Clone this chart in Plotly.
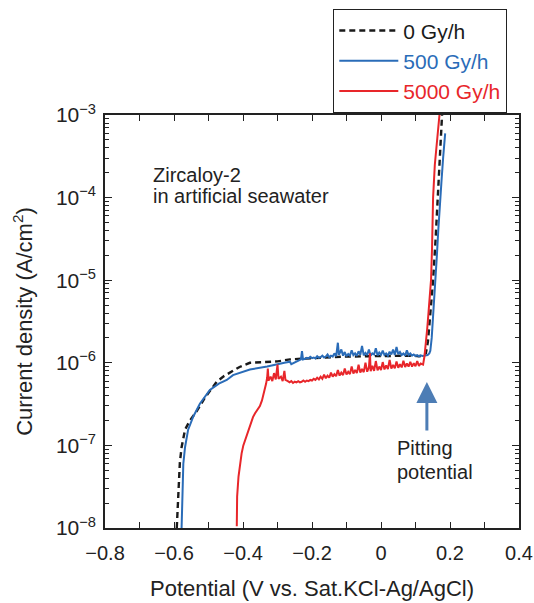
import math
import plotly.graph_objects as go

# ---------------- data ----------------
# 0 Gy/h (black dashed)
v0 = [-0.592, -0.589, -0.587, -0.583, -0.578, -0.568, -0.554, -0.534, -0.51, -0.486,
      -0.476, -0.455, -0.433, -0.41, -0.38, -0.34, -0.30, -0.264, -0.22, -0.18,
      -0.14, -0.10, -0.05, 0.0, 0.03, 0.06, 0.09, 0.11, 0.12, 0.13,
      0.136, 0.14, 0.145, 0.151, 0.158, 0.165, 0.171, 0.177]
i0 = [1e-8, 2e-8, 3.8e-8, 6.2e-8, 9.5e-8, 1.55e-7, 2.0e-7, 2.6e-7, 3.8e-7, 5.1e-7,
      5.9e-7, 6.9e-7, 7.8e-7, 8.9e-7, 1.0e-6, 1.02e-6, 1.04e-6, 1.1e-6, 1.13e-6, 1.15e-6,
      1.17e-6, 1.19e-6, 1.2e-6, 1.21e-6, 1.22e-6, 1.23e-6, 1.22e-6, 1.2e-6, 1.22e-6, 1.3e-6,
      1.8e-6, 2.8e-6, 5e-6, 1e-5, 3e-5, 1e-4, 3e-4, 1e-3]

# 500 Gy/h (blue)
v500 = [-0.578, -0.576, -0.573, -0.568, -0.559, -0.544, -0.525, -0.496, -0.47, -0.447,
        -0.429, -0.38, -0.33, -0.28, -0.264, -0.26, -0.24, -0.232, -0.229, -0.226,
        -0.22, -0.215, -0.21, -0.205, -0.20, -0.195, -0.19, -0.185, -0.18, -0.175,
        -0.17, -0.165, -0.16, -0.155, -0.15, -0.145, -0.14, -0.135, -0.13, -0.125,
        -0.122, -0.115, -0.11, -0.105, -0.10, -0.095, -0.09, -0.085, -0.08, -0.075,
        -0.07, -0.065, -0.06, -0.055, -0.05, -0.045, -0.04, -0.035, -0.03, -0.025,
        -0.02, -0.015, -0.01, -0.005, 0.0, 0.005, 0.01, 0.015, 0.02, 0.025,
        0.03, 0.035, 0.04, 0.045, 0.05, 0.055, 0.06, 0.065, 0.07, 0.075,
        0.08, 0.085, 0.09, 0.095, 0.10, 0.105, 0.11, 0.115, 0.12, 0.125,
        0.13, 0.135, 0.14, 0.143, 0.147, 0.151, 0.155, 0.158, 0.162, 0.166,
        0.170, 0.175, 0.180, 0.186]
i500 = [1e-8, 2.4e-8, 6e-8, 9.5e-8, 1.55e-7, 2.24e-7, 3.2e-7, 4.7e-7, 5.6e-7, 6.2e-7,
        7.1e-7, 8.3e-7, 9.0e-7, 1.0e-6, 1.03e-6, 0.96e-6, 1.06e-6, 1.1e-6, 1.38e-6, 1.1e-6,
        1.12e-6, 1.15e-6, 1.13e-6, 1.18e-6, 1.14e-6, 1.16e-6, 1.13e-6, 1.2e-6, 1.15e-6, 1.17e-6,
        1.22e-6, 1.16e-6, 1.19e-6, 1.26e-6, 1.17e-6, 1.22e-6, 1.19e-6, 1.3e-6, 1.2e-6, 1.75e-6,
        1.25e-6, 1.45e-6, 1.22e-6, 1.35e-6, 1.2e-6, 1.28e-6, 1.22e-6, 1.42e-6, 1.24e-6, 1.3e-6,
        1.21e-6, 1.38e-6, 1.25e-6, 1.6e-6, 1.23e-6, 1.32e-6, 1.24e-6, 1.45e-6, 1.22e-6, 1.3e-6,
        1.26e-6, 1.5e-6, 1.23e-6, 1.33e-6, 1.25e-6, 1.4e-6, 1.24e-6, 1.3e-6, 1.22e-6, 1.36e-6,
        1.26e-6, 1.45e-6, 1.24e-6, 1.55e-6, 1.27e-6, 1.35e-6, 1.24e-6, 1.3e-6, 1.22e-6, 1.42e-6,
        1.24e-6, 1.3e-6, 1.22e-6, 1.26e-6, 1.21e-6, 1.24e-6, 1.2e-6, 1.23e-6, 1.21e-6, 1.22e-6,
        1.22e-6, 1.24e-6, 1.3e-6, 1.4e-6, 2e-6, 3.5e-6, 6e-6, 1e-5, 2e-5, 4e-5,
        8e-5, 1.5e-4, 3e-4, 6e-4]

# 5000 Gy/h (red)
v5000 = [-0.418, -0.417, -0.413, -0.409, -0.404, -0.399, -0.394, -0.389, -0.384, -0.378,
         -0.371, -0.365, -0.358, -0.351, -0.345, -0.340, -0.336, -0.333, -0.330, -0.328, -0.326,
         -0.325, -0.32, -0.315, -0.31, -0.305, -0.30, -0.297, -0.29, -0.285, -0.28,
         -0.277, -0.27, -0.265, -0.26, -0.255, -0.25, -0.245, -0.24, -0.235, -0.23,
         -0.225, -0.22, -0.215, -0.21, -0.205, -0.20, -0.195, -0.19, -0.185, -0.18,
         -0.175, -0.17, -0.165, -0.16, -0.155, -0.15, -0.145, -0.14, -0.135, -0.13,
         -0.125, -0.12, -0.115, -0.11, -0.105, -0.10, -0.095, -0.09, -0.085, -0.08,
         -0.075, -0.07, -0.065, -0.06, -0.055, -0.05, -0.045, -0.04, -0.035, -0.032,
         -0.03, -0.025, -0.02, -0.015, -0.01, -0.005, 0.0, 0.005, 0.01, 0.015,
         0.02, 0.025, 0.03, 0.035, 0.04, 0.045, 0.05, 0.055, 0.06, 0.065,
         0.07, 0.075, 0.08, 0.085, 0.09, 0.095, 0.10, 0.105, 0.11, 0.115,
         0.12, 0.122, 0.126, 0.13, 0.134, 0.138, 0.142, 0.145, 0.148, 0.151,
         0.156, 0.162, 0.168, 0.172]
i5000 = [1.05e-8, 2.4e-8, 4.2e-8, 6e-8, 8e-8, 1.0e-7, 1.15e-7, 1.35e-7, 1.6e-7, 1.9e-7,
         2.2e-7, 2.45e-7, 2.7e-7, 3.0e-7, 3.5e-7, 4.2e-7, 5.1e-7, 5.6e-7, 6.6e-7, 8.5e-7, 6.2e-7,
         6.2e-7, 6.8e-7, 6.0e-7, 7.5e-7, 6.3e-7, 9.5e-7, 6.4e-7, 6.8e-7, 6.0e-7, 8.0e-7,
         6.2e-7, 6.0e-7, 5.8e-7, 6.0e-7, 5.7e-7, 5.9e-7, 5.8e-7, 6.0e-7, 5.8e-7, 5.9e-7,
         6.1e-7, 5.9e-7, 6.1e-7, 6.0e-7, 6.2e-7, 6.1e-7, 6.4e-7, 6.2e-7, 6.6e-7, 6.3e-7,
         6.8e-7, 6.4e-7, 7.2e-7, 6.5e-7, 7.0e-7, 6.6e-7, 7.6e-7, 6.8e-7, 7.3e-7, 6.9e-7,
         8.2e-7, 7.0e-7, 7.6e-7, 7.1e-7, 8.5e-7, 7.2e-7, 7.8e-7, 7.3e-7, 9.0e-7, 7.4e-7,
         8.2e-7, 7.5e-7, 9.5e-7, 7.6e-7, 8.4e-7, 7.7e-7, 1.0e-6, 7.8e-7, 8.8e-7, 1.3e-6,
         7.9e-7, 9.2e-7, 8.0e-7, 1.05e-6, 8.1e-7, 9.0e-7, 8.2e-7, 1.02e-6, 8.3e-7, 9.3e-7,
         8.4e-7, 1.08e-6, 8.5e-7, 9.4e-7, 8.6e-7, 1.04e-6, 8.7e-7, 9.6e-7, 8.8e-7, 1.06e-6,
         8.9e-7, 9.8e-7, 9.0e-7, 1.03e-6, 9.0e-7, 9.9e-7, 9.1e-7, 1.05e-6, 9.2e-7, 9.8e-7,
         9.4e-7, 9.5e-7, 1.2e-6, 1.7e-6, 2.6e-6, 4.2e-6, 7e-6, 1e-5, 2.5e-5, 1e-4,
         2.5e-4, 5e-4, 1e-3, 1.3e-3]

series_names = ["0 Gy/h", "500 Gy/h", "5000 Gy/h"]
pitting_potential = 0.133      # V
pitting_arrow_tip = 5.86e-7    # A/cm2

x_ticks = [-0.8, -0.6, -0.4, -0.2, 0, 0.2, 0.4]
x_tick_labels = ["\u22120.8", "\u22120.6", "\u22120.4", "\u22120.2", "0", "0.2", "0.4"]
y_ticks = [1e-8, 1e-7, 1e-6, 1e-5, 1e-4, 1e-3]
y_tick_labels = ["10<sup>\u22128</sup>", "10<sup>\u22127</sup>", "10<sup>\u22126</sup>",
                 "10<sup>\u22125</sup>", "10<sup>\u22124</sup>", "10<sup>\u22123</sup>"]

# ---------------- style ----------------
FONT = "Liberation Sans, Arial, Helvetica, sans-serif"
BLACK = "#1a1a1a"
BLUE = "#2a6cb8"
RED = "#e8262a"
ARROW = "#4d7db5"
TEXT = "#222222"

y_minor = [m * 10.0 ** e for e in range(-8, -3) for m in range(2, 10)]

fig = go.Figure()
fig.add_trace(go.Scatter(x=v0, y=i0, mode="lines",
                         name=f"<span style='color:{BLACK}'>{series_names[0]}</span>",
                         line=dict(color=BLACK, width=2.4, dash="6px,4px")))
fig.add_trace(go.Scatter(x=v500, y=i500, mode="lines",
                         name=f"<span style='color:{BLUE}'>{series_names[1]}</span>",
                         line=dict(color=BLUE, width=2)))
fig.add_trace(go.Scatter(x=v5000, y=i5000, mode="lines",
                         name=f"<span style='color:{RED}'>{series_names[2]}</span>",
                         line=dict(color=RED, width=2)))

fig.update_layout(
    width=534, height=603,
    margin=dict(l=105, r=15, t=115, b=75, autoexpand=False),
    paper_bgcolor="white", plot_bgcolor="white",
    font=dict(family=FONT, size=20, color=TEXT),
    showlegend=True,
    legend=dict(x=(333 - 105) / 414, y=(528 - 9) / 413, xanchor="left", yanchor="top",
                bordercolor="#222", borderwidth=1.3, bgcolor="white",
                font=dict(size=21), tracegroupgap=0, itemwidth=59),
)

fig.update_xaxes(
    range=[-0.8, 0.4], showgrid=False, zeroline=False, automargin=False,
    showline=True, linecolor="#222", linewidth=1.5, mirror="ticks",
    ticks="inside", ticklen=6, tickcolor="#222", tickwidth=1.3,
    tickmode="array", tickvals=x_ticks, ticktext=x_tick_labels, ticklabelstandoff=6,
    minor=dict(dtick=0.1, tick0=-0.8, ticks="inside", ticklen=6, tickcolor="#222", tickwidth=1.3, showgrid=False),
    tickfont=dict(size=20, color=TEXT),
    title=dict(text="Potential (V vs. Sat.KCl-Ag/AgCl)", font=dict(size=22, color=TEXT), standoff=18),
)
fig.update_yaxes(
    type="log", range=[-8, -3], showgrid=False, zeroline=False, automargin=False,
    showline=True, linecolor="#222", linewidth=1.5, mirror="ticks",
    ticks="inside", ticklen=7, tickcolor="#222", tickwidth=1.3,
    tickmode="array", tickvals=y_ticks, ticktext=y_tick_labels, ticklabelstandoff=3,
    minor=dict(tickmode="array", tickvals=y_minor, ticks="inside", ticklen=4,
               tickcolor="#222", tickwidth=1, showgrid=False),
    tickfont=dict(size=21, color=TEXT),
    title=dict(text="Current density (A/cm<sup>2</sup>)", font=dict(size=22, color=TEXT), standoff=17),
)

# Labels
fig.add_annotation(xref="paper", yref="paper", x=(151 - 105) / 414, y=(528 - 175) / 413,
                   text="Zircaloy-2", showarrow=False, xanchor="left", yanchor="middle",
                   font=dict(size=20, color=TEXT))
fig.add_annotation(xref="paper", yref="paper", x=(151 - 105) / 414, y=(528 - 196) / 413,
                   text="in artificial seawater", showarrow=False, xanchor="left", yanchor="middle",
                   font=dict(size=20, color=TEXT))
fig.add_annotation(xref="paper", yref="paper", x=(395 - 105) / 414, y=(528 - 448) / 413,
                   text="Pitting", showarrow=False, xanchor="left", yanchor="middle",
                   font=dict(size=20, color=TEXT))
fig.add_annotation(xref="paper", yref="paper", x=(395 - 105) / 414, y=(528 - 472) / 413,
                   text="potential", showarrow=False, xanchor="left", yanchor="middle",
                   font=dict(size=20, color=TEXT))
# Arrow
fig.add_annotation(x=pitting_potential, y=math.log10(pitting_arrow_tip), xref="x", yref="y",
                   ax=0, ay=50, axref="pixel", ayref="pixel",
                   text="", showarrow=True, arrowhead=2, arrowsize=1.4, arrowwidth=3,
                   arrowcolor=ARROW, standoff=0)

fig.write_html("out.html", config={"displayModeBar": False},
               post_script="document.body.style.margin='0';document.body.style.overflow='hidden';")
